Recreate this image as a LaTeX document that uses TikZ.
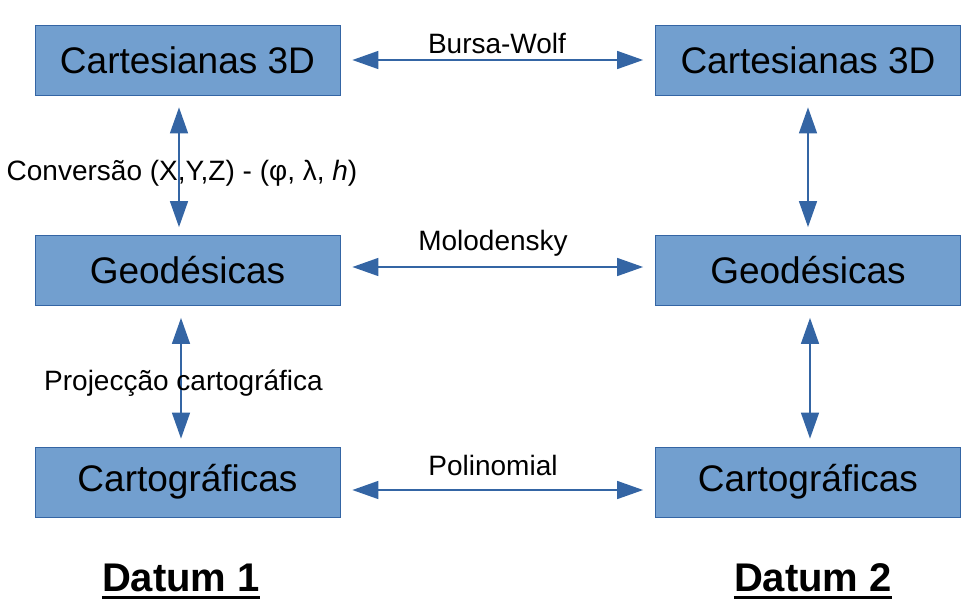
\documentclass[tikz,border=0pt]{standalone}
\usepackage{fontspec}
\setmainfont{Liberation Sans}
\usetikzlibrary{arrows.meta}
\definecolor{boxfill}{HTML}{729FCF}
\definecolor{boxline}{HTML}{3465A4}
\definecolor{arrowc}{HTML}{3465A4}
\tikzset{
  box/.style={rectangle, fill=boxfill, draw=boxline, line width=0.8pt, minimum width=305pt, minimum height=70pt, inner sep=0pt, font=\fontsize{37}{40}\selectfont},
  link/.style={draw=arrowc, line width=1.5pt, {Triangle[length=26pt,width=18pt]}-{Triangle[length=26pt,width=18pt]}},
  lbl/.style={inner sep=0pt, font=\fontsize{28}{32}\selectfont},
  datum/.style={inner sep=0pt, font=\fontsize{40}{44}\selectfont\bfseries}
}
\begin{document}
\begin{tikzpicture}[x=1pt, y=-1pt]
\useasboundingbox (0,0) rectangle (979,614);
\node[box] (c1) at (187.5,60) {Cartesianas 3D};
\node[box] (g1) at (187.5,270.5) {Geodésicas};
\node[box] (k1) at (187.5,482) {Cartográficas};
\node[box] (c2) at (808,60) {Cartesianas 3D};
\node[box] (g2) at (808,270.5) {Geodésicas};
\node[box] (k2) at (808,482) {Cartográficas};

\draw[link, shorten <=12pt, shorten >=12pt] (c1.east) -- (c2.west);
\draw[link, shorten <=12pt, shorten >=12pt] ([yshift=3.5pt]g1.east) -- ([yshift=3.5pt]g2.west);
\draw[link, shorten <=12pt, shorten >=12pt] ([yshift=-8pt]k1.east) -- ([yshift=-8pt]k2.west);

\draw[link, shorten <=12pt, shorten >=8pt] ([xshift=-8.5pt]c1.south) -- ([xshift=-8.5pt]g1.north);
\draw[link, shorten <=12pt, shorten >=8pt] ([xshift=-6.5pt]g1.south) -- ([xshift=-6.5pt]k1.north);
\draw[link, shorten <=12pt, shorten >=8pt] (c2.south) -- (g2.north);
\draw[link, shorten <=12pt, shorten >=8pt] ([xshift=2pt]g2.south) -- ([xshift=2pt]k2.north);

\node[lbl] (bw) at (497,43) {Bursa-Wolf};
\node[lbl] (mo) at (493,243) {Molodensky};
\node[lbl] (po) at (493,465) {Polinomial};
\node[lbl] (cv) at (182,173) {Conversão (X,Y,Z) - (φ, λ, \textit{h})};
\node[lbl] (pc) at (183.5,383) {Projecção cartográfica};

\node[datum, anchor=base] (d1) at (181,591) {Datum 1};
\node[datum, anchor=base] (d2) at (813,591) {Datum 2};
\draw[line width=3pt] ([yshift=-6.5pt]d1.base west) -- ([yshift=-6.5pt]d1.base east);
\draw[line width=3pt] ([yshift=-6.5pt]d2.base west) -- ([yshift=-6.5pt]d2.base east);
\end{tikzpicture}
\end{document}
